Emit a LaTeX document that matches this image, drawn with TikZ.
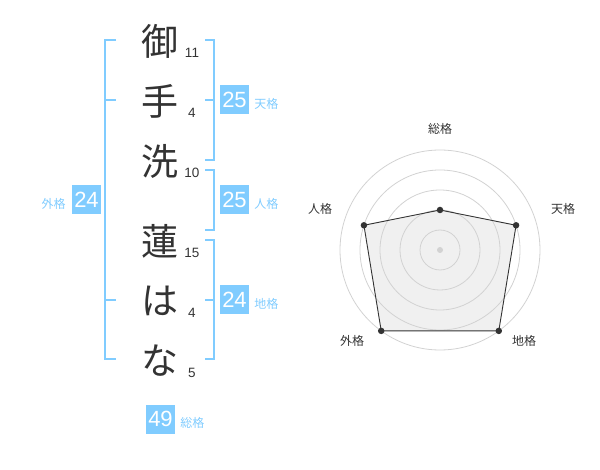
\documentclass[tikz,border=0pt]{standalone}
\usepackage{fontspec}
\setmainfont{Liberation Sans}
\newfontfamily\jpfont{Noto Sans CJK JP}
\usepackage{tikz}
\usetikzlibrary{positioning,calc}
\definecolor{ntblue}{RGB}{128,204,255}
\definecolor{ntdark}{RGB}{51,51,51}
\definecolor{ntgrid}{RGB}{210,210,210}
\definecolor{ntfill}{RGB}{240,240,240}
\tikzstyle{kanji} = [font=\jpfont\fontsize{37}{37}\selectfont, text=ntdark, inner sep=0pt]
\tikzstyle{strokes} = [font=\fontsize{13.5}{13.5}\selectfont, text=ntdark, inner sep=0pt]
\tikzstyle{scorebox} = [rectangle, minimum width=29pt, minimum height=29pt, fill=ntblue, text=white, font=\fontsize{22}{22}\selectfont, inner sep=0pt]
\tikzstyle{kaku} = [font=\jpfont\fontsize{12}{12}\selectfont, text=ntblue, inner sep=0pt]
\tikzstyle{bracket} = [ntblue, line width=2pt]
\tikzstyle{axislabel} = [font=\jpfont\fontsize{12}{12}\selectfont, text=ntdark, inner sep=0pt]
\tikzstyle{ring} = [ntgrid, line width=0.8pt]
\tikzstyle{vertex} = [circle, fill=ntdark, minimum size=6.5pt, inner sep=0pt]

\begin{document}
\begin{tikzpicture}[x=1pt, y=-1pt]
\useasboundingbox (0,0) rectangle (600,470);
% Name
\node[kanji] (k1) at (160,41) {御};
\node[kanji] (k2) at (160,101) {手};
\node[kanji] (k3) at (160,161) {洗};
\node[kanji] (k4) at (160,241) {蓮};
\node[kanji] (k5) at (160,301) {は};
\node[kanji] (k6) at (160,361) {な};
% Strokes
\node[strokes] (n1) at (192,53) {11};
\node[strokes] (n2) at (192,113) {4};
\node[strokes] (n3) at (192,173) {10};
\node[strokes] (n4) at (192,253) {15};
\node[strokes] (n5) at (192,313) {4};
\node[strokes] (n6) at (192,373) {5};
% Brackets
\draw[bracket] (116,40) -- (105,40) -- (105,359) -- (116,359);
\draw[bracket] (105,100) -- (116,100);
\draw[bracket] (105,300) -- (116,300);
\draw[bracket] (205,40) -- (214,40) -- (214,160) -- (205,160);
\draw[bracket] (205,100) -- (214,100);
\draw[bracket] (205,170) -- (214,170) -- (214,230) -- (205,230);
\draw[bracket] (205,240) -- (214,240) -- (214,359) -- (205,359);
\draw[bracket] (205,300) -- (214,300);
% Scores
\node[scorebox] (ten) at (234.5,100) {25};
\node[kaku, right=5pt of ten, yshift=-4pt] (tenl) {天格};
\node[scorebox] (jin) at (234.5,200) {25};
\node[kaku, right=5pt of jin, yshift=-4pt] (jinl) {人格};
\node[scorebox] (chi) at (234.5,300) {24};
\node[kaku, right=5pt of chi, yshift=-4pt] (chil) {地格};
\node[scorebox] (gai) at (86.5,200) {24};
\node[kaku, left=6pt of gai, yshift=-4pt] (gail) {外格};
\node[scorebox] (sou) at (160.5,419) {49};
\node[kaku, right=5pt of sou, yshift=-4pt] (soul) {総格};
% Radar
\coordinate (c) at (440,250);
\coordinate (p1) at ($(c)+(-90:40)$);
\coordinate (p2) at ($(c)+(-18:80)$);
\coordinate (p3) at ($(c)+(54:100)$);
\coordinate (p4) at ($(c)+(126:100)$);
\coordinate (p5) at ($(c)+(198:80)$);
\fill[ntfill] (p1) -- (p2) -- (p3) -- (p4) -- (p5) -- cycle;
\foreach \r in {20,40,60,80,100}
  \draw[ring] (c) circle (\r pt);
\fill[ntgrid] (c) circle (3pt);
\draw[ntdark, line width=0.9pt] (p1) -- (p2) -- (p3) -- (p4) -- (p5) -- cycle;
\foreach \p in {p1,p2,p3,p4,p5}
  \node[vertex] at (\p) {};
\node[axislabel] (a1) at (440,129) {総格};
\node[axislabel] (a2) at (563,209) {天格};
\node[axislabel] (a3) at (524,341) {地格};
\node[axislabel] (a4) at (352,341) {外格};
\node[axislabel] (a5) at (320,209) {人格};
\end{tikzpicture}
\end{document}
